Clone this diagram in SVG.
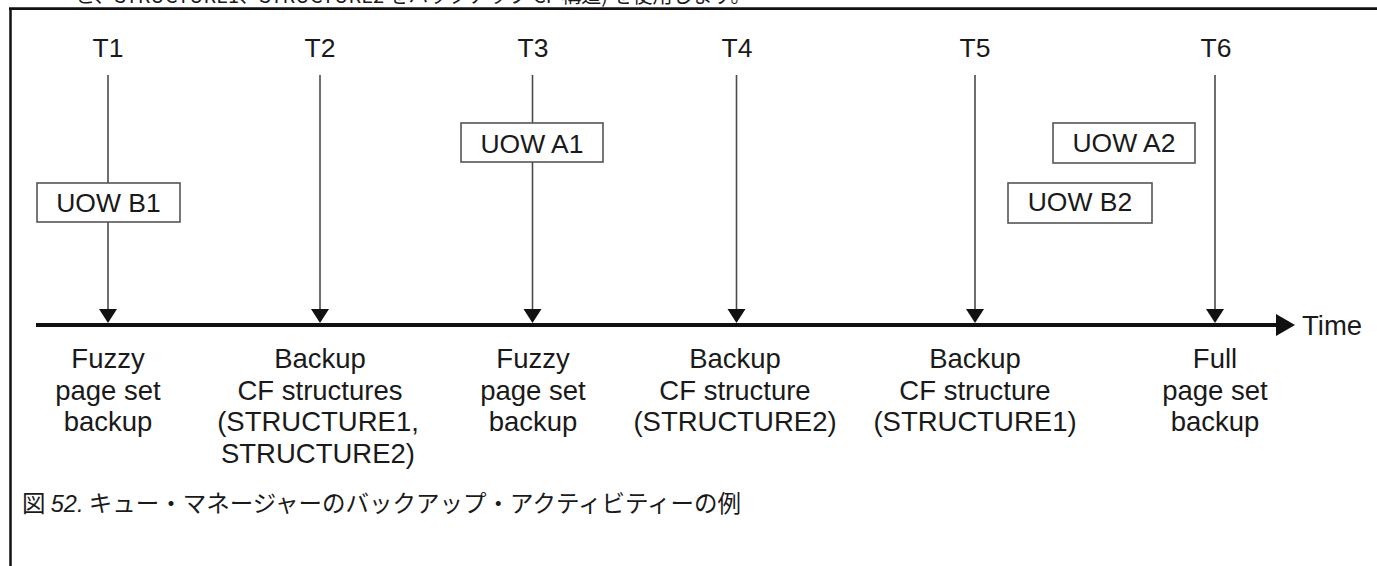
<svg xmlns="http://www.w3.org/2000/svg" width="1377" height="566" viewBox="0 0 1377 566">
<style>
  text { font-family: "Liberation Sans", Arial, "Noto Sans CJK JP", sans-serif; fill: #1a1a1a; }
  .t { font-size: 26.5px; text-anchor: middle; }
  .lbl { font-size: 27.5px; text-anchor: middle; }
  .uow { font-size: 26.5px; text-anchor: middle; }
  .cap { font-size: 23.5px; font-family: "Noto Sans CJK JP", sans-serif; }
  .top { font-size: 20px; font-family: "Noto Sans CJK JP", sans-serif; }
  .vline { stroke: #4a4a4a; stroke-width: 1.6; fill: none; }
  .box { fill: #ffffff; stroke: #555555; stroke-width: 1.6; }
  .head { fill: #111111; }
</style>
<rect width="1377" height="566" fill="#ffffff"/>
<text class="top" x="75" y="3">と、STRUCTURE1、STRUCTURE2 をバックアップ CF 構造) を使用します。</text>
<g id="frame">
  <line x1="9" y1="8.7" x2="1377" y2="8.7" stroke="#111" stroke-width="2.7"/>
  <line x1="10.5" y1="8" x2="10.5" y2="566" stroke="#111" stroke-width="2.5"/>
</g>
<g id="connectors">
  <line x1="36" y1="325" x2="1280" y2="325" stroke="#111" stroke-width="4"/>
  <polygon class="head" points="1276,314 1295,325 1276,336"/>
  <line class="vline" x1="108" y1="75" x2="108" y2="310"/>
  <polygon class="head" points="99,309 117,309 108,323"/>
  <line class="vline" x1="320" y1="75" x2="320" y2="310"/>
  <polygon class="head" points="311,309 329,309 320,323"/>
  <line class="vline" x1="532.5" y1="75" x2="532.5" y2="310"/>
  <polygon class="head" points="523.5,309 541.5,309 532.5,323"/>
  <line class="vline" x1="736.5" y1="75" x2="736.5" y2="310"/>
  <polygon class="head" points="727.5,309 745.5,309 736.5,323"/>
  <line class="vline" x1="975" y1="75" x2="975" y2="310"/>
  <polygon class="head" points="966,309 984,309 975,323"/>
  <line class="vline" x1="1215" y1="75" x2="1215" y2="310"/>
  <polygon class="head" points="1206,309 1224,309 1215,323"/>
</g>
<g id="time-label"><text x="1302" y="334.5" style="font-size:27.5px">Time</text></g>
<g id="T1">
  <text class="t" x="108" y="57">T1</text>
  <text class="lbl" x="108" y="368">Fuzzy<tspan x="108" dy="31.5">page set</tspan><tspan x="108" dy="31.5">backup</tspan></text>
</g>
<g id="T2">
  <text class="t" x="320" y="57">T2</text>
  <text class="lbl" x="320" y="368">Backup<tspan x="320" dy="31.5">CF structures</tspan><tspan x="318" dy="31.5">(STRUCTURE1,</tspan><tspan x="318" dy="31.5">STRUCTURE2)</tspan></text>
</g>
<g id="T3">
  <text class="t" x="533" y="57">T3</text>
  <text class="lbl" x="533" y="368">Fuzzy<tspan x="533" dy="31.5">page set</tspan><tspan x="533" dy="31.5">backup</tspan></text>
</g>
<g id="T4">
  <text class="t" x="737" y="57">T4</text>
  <text class="lbl" x="735" y="368">Backup<tspan x="735" dy="31.5">CF structure</tspan><tspan x="735" dy="31.5">(STRUCTURE2)</tspan></text>
</g>
<g id="T5">
  <text class="t" x="975" y="57">T5</text>
  <text class="lbl" x="975" y="368">Backup<tspan x="975" dy="31.5">CF structure</tspan><tspan x="975" dy="31.5">(STRUCTURE1)</tspan></text>
</g>
<g id="T6">
  <text class="t" x="1216" y="57">T6</text>
  <text class="lbl" x="1215" y="368">Full<tspan x="1215" dy="31.5">page set</tspan><tspan x="1215" dy="31.5">backup</tspan></text>
</g>
<g id="uow-b1">
  <rect class="box" x="37" y="183" width="143" height="39"/>
  <text class="uow" x="108.5" y="212">UOW B1</text>
</g>
<g id="uow-a1">
  <rect class="box" x="461" y="123" width="142" height="39"/>
  <text class="uow" x="532" y="153">UOW A1</text>
</g>
<g id="uow-a2">
  <rect class="box" x="1053" y="123" width="142" height="40"/>
  <text class="uow" x="1124" y="152">UOW A2</text>
</g>
<g id="uow-b2">
  <rect class="box" x="1008" y="183" width="144" height="40"/>
  <text class="uow" x="1080" y="211">UOW B2</text>
</g>
<g id="caption">
  <text class="cap" x="22" y="512">図 <tspan font-style="italic" font-family="Liberation Sans, sans-serif">52.</tspan> キュー・マネージャーのバックアップ・アクティビティーの例</text>
</g>
</svg>
